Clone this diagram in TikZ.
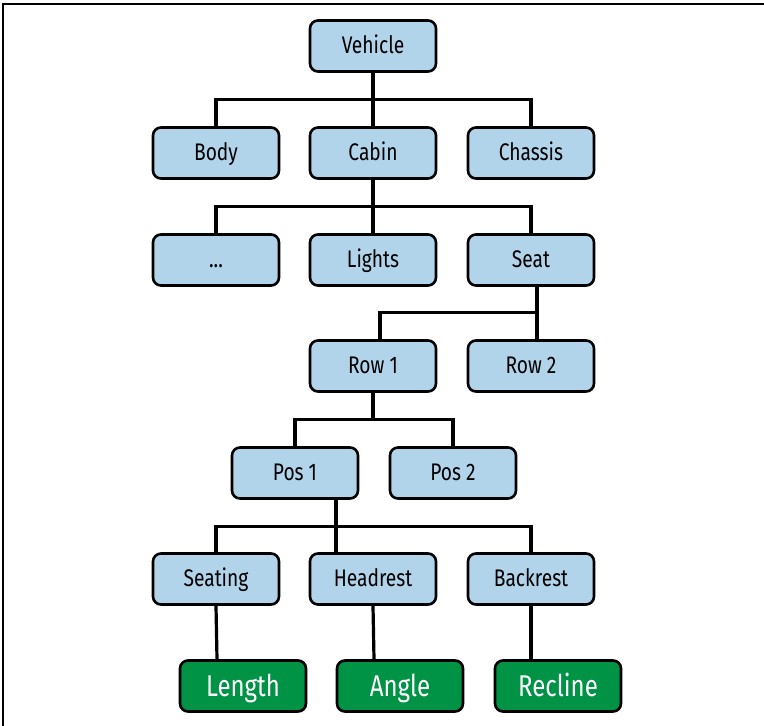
\documentclass[tikz,border=0pt]{standalone}
\usepackage{fontspec}
\setmainfont{Fira Sans}[FakeStretch=0.8]
\usepackage{xcolor}
\definecolor{partblue}{RGB}{178,212,234}
\definecolor{leafgreen}{RGB}{0,146,69}

\begin{document}
\begin{tikzpicture}[x=1pt, y=-1pt,
	part/.style={draw, line width=2.6pt, rounded corners=8pt, fill=partblue,
		minimum width=126pt, minimum height=51pt, inner sep=0pt,
		text height=18pt, text depth=4pt,
		font=\fontsize{24}{27}\selectfont},
	leaf/.style={part, fill=leafgreen, text=white, text height=21pt, text depth=1pt,
		font=\fontsize{30}{33}\selectfont},
	link/.style={line width=3.2pt, line join=miter}]
	\useasboundingbox (0,0) rectangle (764,726);
	\draw[line width=1.2pt] (3,726) -- (3,4) -- (764,4);
	% top levels
	\node[part] (vehicle) at (373,46) {Vehicle};
	\node[part] (body) at (216,153) {Body};
	\node[part] (cabin) at (373,153) {Cabin};
	\node[part] (chassis) at (531,153) {Chassis};
	\node[part] (other) at (216,260) {...};
	\node[part] (lights) at (373,260) {Lights};
	\node[part] (seat) at (531,260) {Seat};
	\node[part] (row1) at (373,366) {Row 1};
	\node[part] (row2) at (531,366) {Row 2};
	\node[part] (pos1) at (295,473) {Pos 1};
	\node[part] (pos2) at (453,473) {Pos 2};
	\node[part] (seating) at (216,579) {Seating};
	\node[part] (headrest) at (373,579) {Headrest};
	\node[part] (backrest) at (531,579) {Backrest};
	% signals
	\node[leaf] (length) at (243,686) {Length};
	\node[leaf] (angle) at (400,686) {Angle};
	\node[leaf] (recline) at (558,686) {Recline};
	% links
	\draw[link] (vehicle.south) -- ++(0,27) -| (body.north);
	\draw[link] (vehicle.south) -- ++(0,27) -| (chassis.north);
	\draw[link] (vehicle.south) -- (cabin.north);
	\draw[link] (cabin.south) -- ++(0,27) -| (other.north);
	\draw[link] (cabin.south) -- ++(0,27) -| (seat.north);
	\draw[link] (cabin.south) -- (lights.north);
	\draw[link] ([xshift=6]seat.south) -- ([xshift=6]row2.north);
	\draw[link] ([xshift=6]seat.south) -- ++(0,26) -| ([xshift=7]row1.north);
	\draw[link] (row1.south) -- ++(0,27) -| (pos1.north);
	\draw[link] (row1.south) -- ++(0,27) -| (pos2.north);
	\draw[link] ([xshift=41]pos1.south) -- ([xshift=-37]headrest.north);
	\draw[link] ([xshift=41]pos1.south) -- ++(0,27) -| (seating.north);
	\draw[link] ([xshift=41]pos1.south) -- ++(0,27) -| (backrest.north);
	\draw[link] (seating.south) -- ([xshift=-26]length.north);
	\draw[link] (headrest.south) -- ([xshift=-26]angle.north);
	\draw[link] (backrest.south) -- ([xshift=-27]recline.north);
\end{tikzpicture}
\end{document}
